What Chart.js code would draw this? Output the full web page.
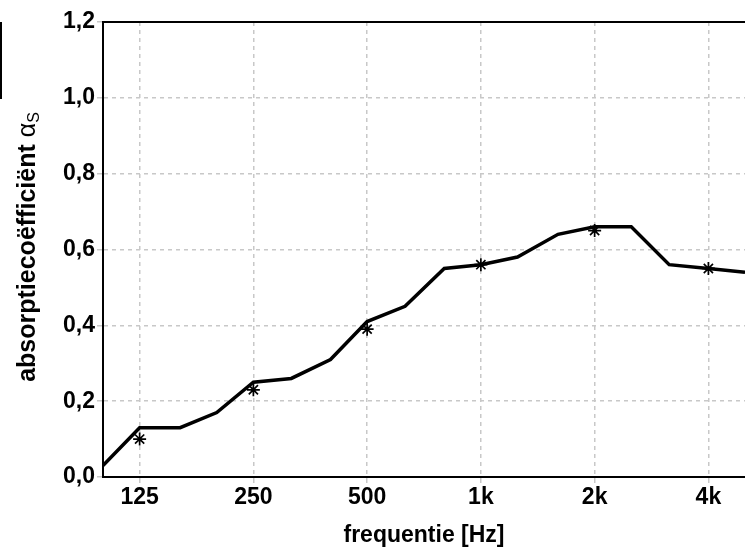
<!DOCTYPE html>
<html>
<head>
<meta charset="utf-8">
<script src="https://cdn.jsdelivr.net/npm/chart.js@4.4.1/dist/chart.umd.min.js"></script>
<style>
  html, body { margin: 0; padding: 0; background: #fff; }
  #wrap { position: relative; width: 745px; height: 549px; }
  #mark { position: absolute; left: 0; top: 22px; width: 2px; height: 77px; background: #000; }
</style>
</head>
<body>
<div id="wrap">
  <canvas id="chart" width="745" height="549"></canvas>
  <div id="mark"></div>
</div>
<script>
// third-octave bands (line) and octave bands (stars)
const freqs = [100, 125, 160, 200, 250, 315, 400, 500, 630, 800, 1000, 1250, 1600, 2000, 2500, 3150, 4000, 5000]
const alpha = [0.03, 0.13, 0.13, 0.17, 0.25, 0.26, 0.31, 0.41, 0.45, 0.55, 0.56, 0.58, 0.64, 0.66, 0.66, 0.56, 0.55, 0.54]
const octaveFreqs = [125, 250, 500, 1000, 2000, 4000]
const octaveAlpha = [0.10, 0.23, 0.39, 0.56, 0.65, 0.55]
const xTickLabels = ['125', '250', '500', '1k', '2k', '4k']

const FONT = '"Liberation Sans", Arial, sans-serif'
const gridColor = '#c8c8c8'

// y title with subscript + top frame line
const framePlugin = {
  id: 'frame',
  afterDraw(chart) {
    const { ctx, chartArea } = chart
    ctx.save()
    ctx.strokeStyle = '#000'
    ctx.lineWidth = 2
    ctx.beginPath()
    ctx.moveTo(chartArea.left - 1, chartArea.top)
    ctx.lineTo(chartArea.right, chartArea.top)
    ctx.stroke()

    ctx.translate(25, 247)
    ctx.rotate(-Math.PI / 2)
    ctx.fillStyle = '#000'
    ctx.textBaseline = 'alphabetic'
    const main = 'absorptiecoëfficiënt '
    ctx.font = 'bold 25px ' + FONT
    const w1 = ctx.measureText(main).width
    ctx.font = '25px ' + FONT
    const w2 = ctx.measureText('α').width
    ctx.font = '16px ' + FONT
    const w3 = ctx.measureText('S').width
    let x = -(w1 + w2 + w3) / 2
    ctx.font = 'bold 25px ' + FONT
    ctx.fillText(main, x, 10)
    x += w1
    ctx.font = '25px ' + FONT
    ctx.fillText('α', x, 10)
    x += w2
    ctx.font = '16px ' + FONT
    ctx.fillText('S', x, 14)
    ctx.restore()
  }
}

new Chart(document.getElementById('chart'), {
  type: 'line',
  data: {
    datasets: [{
      data: freqs.map((f, i) => ({ x: f, y: alpha[i] })),
      borderColor: '#000',
      borderWidth: 3.5,
      pointRadius: 0,
      tension: 0
    }, {
      data: octaveFreqs.map((f, i) => ({ x: f, y: octaveAlpha[i] })),
      showLine: false,
      pointStyle: 'star',
      pointRadius: 6.5,
      borderColor: '#000',
      backgroundColor: '#000',
      pointBorderWidth: 1.7
    }]
  },
  options: {
    responsive: false,
    animation: false,
    devicePixelRatio: 1,
    layout: { autoPadding: false, padding: { top: 22, right: 0, bottom: 0, left: 0 } },
    plugins: { legend: { display: false }, tooltip: { enabled: false } },
    scales: {
      x: {
        type: 'logarithmic',
        min: 100,
        max: 5000,
        afterBuildTicks: s => { s.ticks = octaveFreqs.map(v => ({ value: v })) },
        afterFit: s => { s.height = 72 },
        ticks: {
          callback: v => xTickLabels[octaveFreqs.indexOf(v)] || '',
          autoSkip: false,
          maxRotation: 0,
          padding: 1,
          color: '#000',
          font: { family: FONT, size: 23, weight: 'bold' }
        },
        grid: { color: gridColor, lineWidth: 1.5, tickColor: gridColor, tickLength: 6, tickBorderDash: [] },
        border: { color: '#000', width: 2, dash: [4, 4] },
        title: {
          display: true,
          text: 'frequentie [Hz]',
          color: '#000',
          padding: { top: 0, bottom: 0 },
          font: { family: FONT, size: 23, weight: 'bold' }
        }
      },
      y: {
        min: 0,
        max: 1.2,
        afterFit: s => { s.width = 103 },
        ticks: {
          stepSize: 0.2,
          padding: 2,
          color: '#000',
          callback: v => v.toFixed(1).replace('.', ','),
          font: { family: FONT, size: 23, weight: 'bold' }
        },
        grid: { color: gridColor, lineWidth: 1.5, tickColor: gridColor, tickLength: 6, tickBorderDash: [] },
        border: { color: '#000', width: 2, dash: [4, 4] }
      }
    }
  },
  plugins: [framePlugin]
})
</script>
</body>
</html>
